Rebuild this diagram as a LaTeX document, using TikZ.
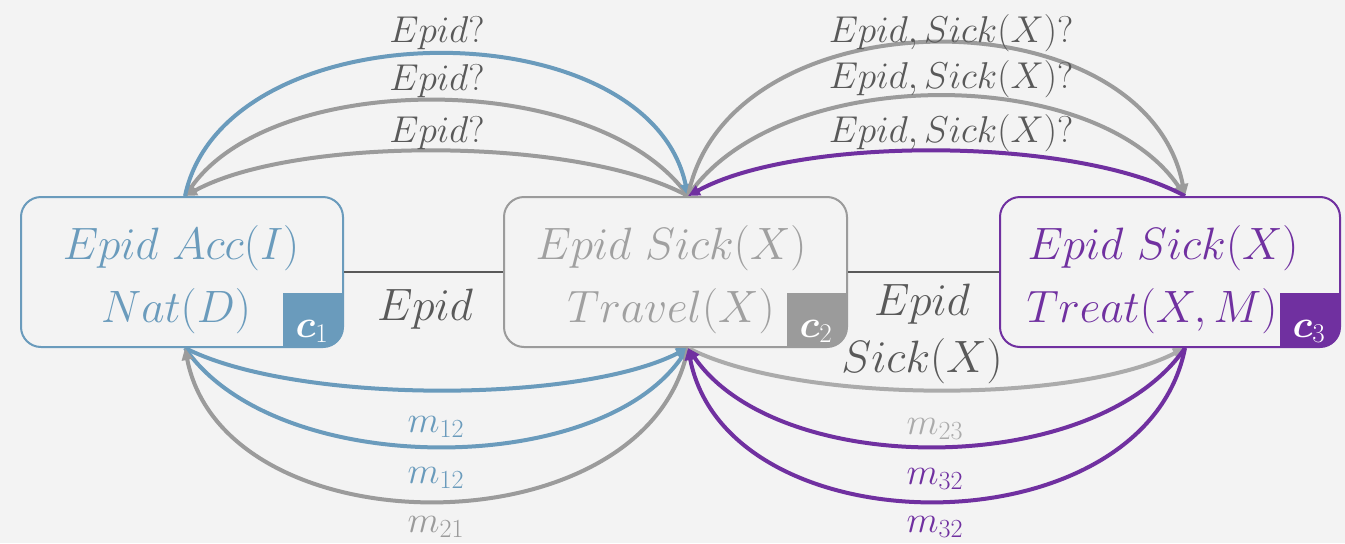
\RequirePackage{fix-cm}
\documentclass[tikz,border=0pt]{standalone}
\usepackage{amsmath}
\usetikzlibrary{arrows.meta}

\definecolor{bg}{HTML}{F3F3F3}
\definecolor{cblue}{HTML}{6A9BBC}
\definecolor{cgrey}{HTML}{9B9B9B}
\definecolor{clight}{HTML}{ABABAB}
\definecolor{cpurple}{HTML}{7030A0}
\definecolor{cdark}{HTML}{595959}
\definecolor{ctexttwo}{HTML}{A0A0A0}

\tikzset{
  ctxbox/.style={draw=#1, line width=1.5pt, rounded corners=15pt,
    minimum height=112.5pt, inner sep=0pt,
    path picture={\fill[#1, sharp corners] ([xshift=-45pt,yshift=40.5pt]path picture bounding box.south east)
      rectangle ([xshift=2pt,yshift=-2pt]path picture bounding box.south east);}},
  boxtext/.style={text=#1, anchor=base, inner sep=0pt, font=\fontsize{34}{40}\selectfont},
  tagtext/.style={text=white, anchor=base, inner sep=0pt, font=\fontsize{29}{30}\selectfont},
  lab/.style={text=#1, anchor=base, inner sep=0pt, font=\fontsize{28}{30}\selectfont},
  biglab/.style={text=cdark, anchor=base, inner sep=0pt, font=\fontsize{34}{40}\selectfont},
  conn/.style={draw=cdark, line width=1.5pt},
  link/.style={line width=3pt, -{Triangle[length=9pt,width=8pt]}}
}

\begin{document}
\begin{tikzpicture}[x=0.75pt,y=-0.75pt]
  \fill[bg] (0,0) rectangle (1345,543);
  \useasboundingbox (0,0) rectangle (1345,543);

  % context boxes
  \node[ctxbox=cblue, minimum width=241.5pt] (n1) at (182,272) {};
  \node[ctxbox=cgrey, minimum width=257.25pt] (n2) at (675.5,272) {};
  \node[ctxbox=cpurple, minimum width=255pt] (n3) at (1170,272) {};

  % box contents
  \node[boxtext=cblue] (n1a) at (181,259) {$Epid\ Acc(I)$};
  \node[boxtext=cblue] (n1b) at (176,322) {$Nat(D)$};
  \node[boxtext=ctexttwo] (n2a) at (671,259) {$Epid\ Sick(X)$};
  \node[boxtext=ctexttwo] (n2b) at (671,322) {$Travel(X)$};
  \node[boxtext=cpurple] (n3a) at (1163,259) {$Epid\ Sick(X)$};
  \node[boxtext=cpurple] (n3b) at (1152,322) {$Treat(X,M)$};

  % corner tags
  \node[tagtext] (c1) at (312,337) {$\boldsymbol{c}_1$};
  \node[tagtext] (c2) at (816,337) {$\boldsymbol{c}_2$};
  \node[tagtext] (c3) at (1309,337) {$\boldsymbol{c}_3$};

  % shared-variable links
  \draw[conn] (n1.east) -- (n2.west);
  \draw[conn] (n2.east) -- (n3.west);
  \node[biglab] (s12) at (425,320) {$Epid$};
  \node[biglab] (s23a) at (922,315) {$Epid$};
  \node[biglab] (s23b) at (922,372) {$Sick(X)$};

  % message attachment points
  \coordinate (t1) at (185,196);
  \coordinate (t2) at (688,196);
  \coordinate (t3) at (1185,196);
  \coordinate (b1) at (185,348);
  \coordinate (b2) at (688,348);
  \coordinate (b3) at (1185,348);

  % queries between c1 and c2
  \draw[link, cgrey] (t2) .. controls +(-110,-60) and +(110,-60) .. (t1);
  \draw[link, cgrey] (t2) .. controls +(-90,-127) and +(90,-127) .. (t1);
  \draw[link, cblue] (t1) .. controls +(40,-189) and +(-40,-189) .. (t2);
  \node[lab=cdark] (q1) at (437,42) {$Epid?$};
  \node[lab=cdark] (q2) at (437,90) {$Epid?$};
  \node[lab=cdark] (q3) at (437,142) {$Epid?$};

  % queries between c2 and c3
  \draw[link, cgrey] (t2) .. controls +(40,-204) and +(-40,-204) .. (t3);
  \draw[link, cgrey] (t2) .. controls +(90,-133) and +(-90,-133) .. (t3);
  \draw[link, cpurple] (t3) .. controls +(-110,-60) and +(110,-60) .. (t2);
  \node[lab=cdark] (q4) at (951,42) {$Epid,Sick(X)?$};
  \node[lab=cdark] (q5) at (951,88) {$Epid,Sick(X)?$};
  \node[lab=cdark] (q6) at (951,142) {$Epid,Sick(X)?$};

  % messages between c1 and c2
  \draw[link, cblue] (b1) .. controls +(110,56) and +(-110,56) .. (b2);
  \draw[link, cblue] (b1) .. controls +(90,131) and +(-90,131) .. (b2);
  \draw[link, cgrey] (b2) .. controls +(-40,204) and +(40,204) .. (b1);
  \node[lab=cblue] (m1) at (436,432) {$m_{12}$};
  \node[lab=cblue] (m2) at (436,483) {$m_{12}$};
  \node[lab=cgrey] (m3) at (436,532) {$m_{21}$};

  % messages between c2 and c3
  \draw[link, clight] (b2) .. controls +(110,56) and +(-110,56) .. (b3);
  \draw[link, cpurple] (b3) .. controls +(-90,131) and +(90,131) .. (b2);
  \draw[link, cpurple] (b3) .. controls +(-40,204) and +(40,204) .. (b2);
  \node[lab=clight] (m4) at (935,434) {$m_{23}$};
  \node[lab=cpurple] (m5) at (935,484) {$m_{32}$};
  \node[lab=cpurple] (m6) at (935,532) {$m_{32}$};
\end{tikzpicture}
\end{document}
